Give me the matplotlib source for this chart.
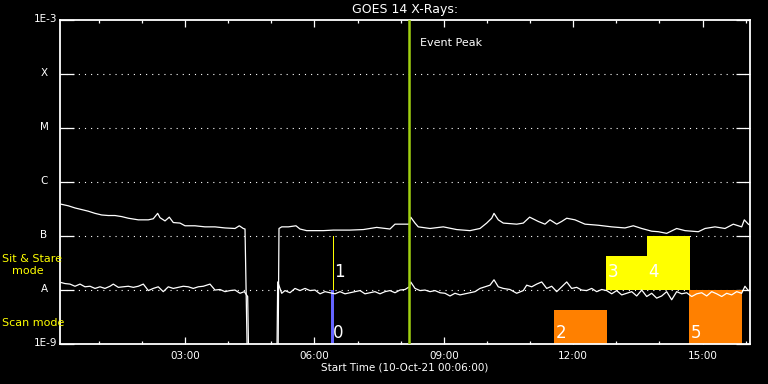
import matplotlib
matplotlib.use('Agg')
import matplotlib.pyplot as plt
import matplotlib.transforms as mtransforms
from matplotlib.ticker import FixedLocator, NullLocator, MultipleLocator
import numpy as np

# time in hours of 10-Oct-21, flux as log10(W/m^2)
long_t = [0.123, 0.292, 0.448, 0.603, 0.756, 0.912, 1.067, 1.22, 1.375, 1.531, 1.684, 1.916,
          2.148, 2.263, 2.365, 2.419, 2.535, 2.634, 2.727, 2.883, 2.999, 3.23, 3.462, 3.694,
          3.926, 4.158, 4.258, 4.35, 4.39, 4.46, 5.15, 5.178, 5.241, 5.394, 5.572, 5.665,
          5.82, 6.205, 6.437, 6.825, 7.133, 7.444, 7.752, 7.868, 8.139, 8.20, 8.232, 8.332,
          8.408, 8.68, 8.988, 9.299, 9.607, 9.839, 9.994, 10.11, 10.164, 10.263, 10.379,
          10.69, 10.843, 10.99, 11.191, 11.346, 11.462, 11.618, 11.733, 11.85, 12.042,
          12.274, 12.582, 12.893, 13.201, 13.394, 13.589, 13.82, 13.974, 14.168, 14.4,
          14.593, 14.901, 15.057, 15.288, 15.52, 15.713, 15.907, 15.968, 16.061, 16.1]
long_logf = [-6.42, -6.45, -6.49, -6.52, -6.55, -6.59, -6.62, -6.63, -6.63, -6.65, -6.68, -6.71,
             -6.71, -6.69, -6.59, -6.67, -6.73, -6.66, -6.76, -6.77, -6.82, -6.82, -6.84, -6.84,
             -6.86, -6.87, -6.82, -6.87, -6.88, -10, -10, -6.87, -6.84, -6.84, -6.82, -6.88,
             -6.91, -6.91, -6.90, -6.90, -6.89, -6.85, -6.88, -6.79, -6.79, -6.79, -6.66, -6.77,
             -6.84, -6.87, -6.84, -6.89, -6.91, -6.87, -6.77, -6.68, -6.59, -6.71, -6.77,
             -6.79, -6.77, -6.66, -6.74, -6.79, -6.71, -6.79, -6.74, -6.68, -6.71,
             -6.79, -6.81, -6.84, -6.86, -6.82, -6.87, -6.92, -6.93, -6.96, -6.87,
             -6.91, -6.93, -6.87, -6.84, -6.87, -6.79, -6.84, -6.71, -6.79, -6.81]

short_t = [0.123, 0.216, 0.332, 0.448, 0.564, 0.680, 0.796, 0.912, 1.028, 1.143, 1.259, 1.336,
           1.452, 1.568, 1.684, 1.800, 1.916, 2.032, 2.148, 2.263, 2.379, 2.495, 2.611, 2.727,
           2.843, 2.959, 3.075, 3.191, 3.307, 3.423, 3.578, 3.694, 3.810, 3.926, 4.042, 4.158,
           4.274, 4.374, 4.452, 4.49, 5.12, 5.148, 5.241, 5.317, 5.433, 5.549, 5.665, 5.781,
           5.897, 6.013, 6.129, 6.245, 6.361, 6.477, 6.593, 6.709, 6.825, 6.941, 7.057, 7.172,
           7.288, 7.404, 7.520, 7.636, 7.752, 7.868, 7.984, 8.100, 8.200, 8.232, 8.332, 8.448,
           8.564, 8.680, 8.796, 8.912, 9.028, 9.143, 9.259, 9.375, 9.491, 9.607, 9.723, 9.839,
           9.955, 10.071, 10.164, 10.263, 10.379, 10.535, 10.690, 10.843, 10.922, 11.038,
           11.154, 11.270, 11.386, 11.502, 11.618, 11.734, 11.850, 11.965, 12.081, 12.197,
           12.313, 12.429, 12.545, 12.661, 12.777, 12.893, 13.009, 13.125, 13.241, 13.357,
           13.473, 13.589, 13.705, 13.820, 13.936, 14.052, 14.168, 14.284, 14.400, 14.516,
           14.632, 14.748, 14.864, 14.980, 15.096, 15.212, 15.328, 15.444, 15.559, 15.675,
           15.791, 15.907, 15.983, 16.061, 16.100]
short_logf = [-7.87, -7.89, -7.90, -7.94, -7.90, -7.95, -7.94, -7.98, -7.95, -7.98, -7.94, -7.90,
              -7.96, -7.95, -7.94, -7.96, -7.94, -7.90, -8.02, -7.98, -7.95, -8.04, -7.95, -7.98,
              -7.96, -7.94, -7.95, -7.98, -7.95, -7.94, -7.90, -8.01, -8.00, -8.04, -8.02, -8.01,
              -8.07, -8.04, -8.13, -10, -10, -7.86, -8.07, -8.02, -8.06, -7.98, -8.02, -7.98,
              -8.02, -8.01, -8.08, -8.04, -8.06, -8.08, -8.04, -8.08, -8.06, -8.04, -8.02, -8.08,
              -8.06, -8.04, -8.08, -8.04, -8.02, -8.06, -8.01, -8.00, -7.95, -7.86, -7.98, -8.02,
              -8.01, -8.04, -8.02, -8.06, -8.07, -8.12, -8.07, -8.10, -8.08, -8.06, -8.04, -7.98,
              -7.95, -7.92, -7.82, -7.95, -7.98, -8.00, -8.07, -8.02, -7.92, -7.95,
              -7.90, -7.86, -7.98, -7.94, -8.04, -7.95, -7.86, -7.98, -7.96, -8.01,
              -8.02, -7.98, -8.04, -8.00, -8.02, -8.08, -8.02, -8.10, -8.07, -8.04,
              -8.12, -8.01, -8.13, -8.07, -8.16, -8.12, -8.04, -8.19, -8.04, -8.08,
              -8.06, -8.13, -8.08, -8.06, -8.12, -8.04, -8.08, -8.13, -8.07, -8.10,
              -8.04, -8.07, -7.94, -8.02, -8.01]

event_peak = 8.186

# observations (hours), flux span of the box
obs_labels = ['0', '1', '2', '3', '4', '5']
obs_mode = ['scan', 'sit', 'scan', 'sit', 'sit', 'scan']
obs_start = [6.385, 6.43, 11.555, 12.765, 13.712, 14.69]
obs_end = [6.455, 6.455, 12.777, 13.712, 14.709, 15.907]
obs_low = [1e-9, 1e-8, 1e-9, 1e-8, 1e-8, 1e-9]
obs_high = [1e-8, 1e-7, 4.2e-9, 4.2e-8, 1e-7, 1e-8]
obs_colors = ['#6464ff', '#ffff00', '#ff8000', '#ffff00', '#ffff00', '#ff8000']

ylevels = [1e-9, 1e-8, 1e-7, 1e-6, 1e-5, 1e-4, 1e-3]
ylabels = ['1E-9', 'A', 'B', 'C', 'M', 'X', '1E-3']

fig = plt.figure(figsize=(7.68, 3.84), dpi=100, facecolor='black')
ax = fig.add_axes([60/768, 1-343.5/384, 690/768, 324/384], facecolor='black')

ax.set_yscale('log')
ax.set_ylim(1e-9, 1e-3)
ax.set_xlim(0.1, 16.1)

for lv in ylevels[1:-1]:
    ax.axhline(lv, color='white', lw=0.8, dashes=(1, 4.5), zorder=1)

for s, e, lo, hi, c in zip(obs_start, obs_end, obs_low, obs_high, obs_colors):
    ax.bar(s, hi - lo, bottom=lo, width=e - s, align='edge', color=c, lw=0, zorder=2)

ax.plot(long_t, 10**np.array(long_logf), color='white', lw=0.9, zorder=3)
ax.plot(short_t, 10**np.array(short_logf), color='white', lw=0.9, zorder=3)

ax.axvline(event_peak, color='#a0d010', lw=1.8, zorder=4)
ax.text(event_peak + 0.27, 10**-3.43, 'Event Peak', color='white', fontsize=8, va='center')

for lab, m, s in zip(obs_labels, obs_mode, obs_start):
    yl = 10**-8.806 if m == 'scan' else 10**-7.676
    ax.annotate(lab, (s, yl), xytext=(1, 0), textcoords='offset points',
                color='white', fontsize=12, va='center', ha='left', zorder=5)

# axes styling
for sp in ax.spines.values():
    sp.set_color('white')
    sp.set_linewidth(1.3)
ax.yaxis.set_major_locator(FixedLocator(ylevels))
ax.yaxis.set_minor_locator(NullLocator())
ax.tick_params(axis='y', which='major', direction='in', length=10, width=0.9,
               colors='white', left=True, right=True, labelleft=False)
ax.xaxis.set_major_locator(FixedLocator([3, 6, 9, 12, 15]))
ax.xaxis.set_minor_locator(MultipleLocator(1))
ax.set_xticklabels(['03:00', '06:00', '09:00', '12:00', '15:00'])
ax.tick_params(axis='x', which='major', direction='in', length=4.8, width=0.9,
               colors='white', top=True, bottom=True, labelsize=7.5, pad=5.5)
ax.tick_params(axis='x', which='minor', direction='in', length=2.4, width=0.9,
               colors='white', top=True, bottom=True)

trans = mtransforms.blended_transform_factory(ax.transAxes, ax.transData)
for lv, lab in zip(ylevels, ylabels):
    if lab.startswith('1E'):
        ax.text(-3/690, lv, lab, transform=trans, color='white', fontsize=7.5,
                ha='right', va='center')
    else:
        ax.text(-16/690, lv, lab, transform=trans, color='white', fontsize=7.5,
                ha='center', va='center')

fig.text(2/768, 1-259/384, 'Sit & Stare', color='yellow', fontsize=8, ha='left', va='center')
fig.text(12/768, 1-271/384, 'mode', color='yellow', fontsize=8, ha='left', va='center')
fig.text(2/768, 1-323/384, 'Scan mode', color='yellow', fontsize=8, ha='left', va='center')

ax.text(0.5, 1 + 9.5/324, 'GOES 14 X-Rays:', transform=ax.transAxes, color='white',
        fontsize=9, ha='center', va='center')
ax.text(0.5, -24.5/324, 'Start Time (10-Oct-21 00:06:00)', transform=ax.transAxes,
        color='white', fontsize=7.5, ha='center', va='center')

fig.savefig('out.png', dpi=100, facecolor='black')
